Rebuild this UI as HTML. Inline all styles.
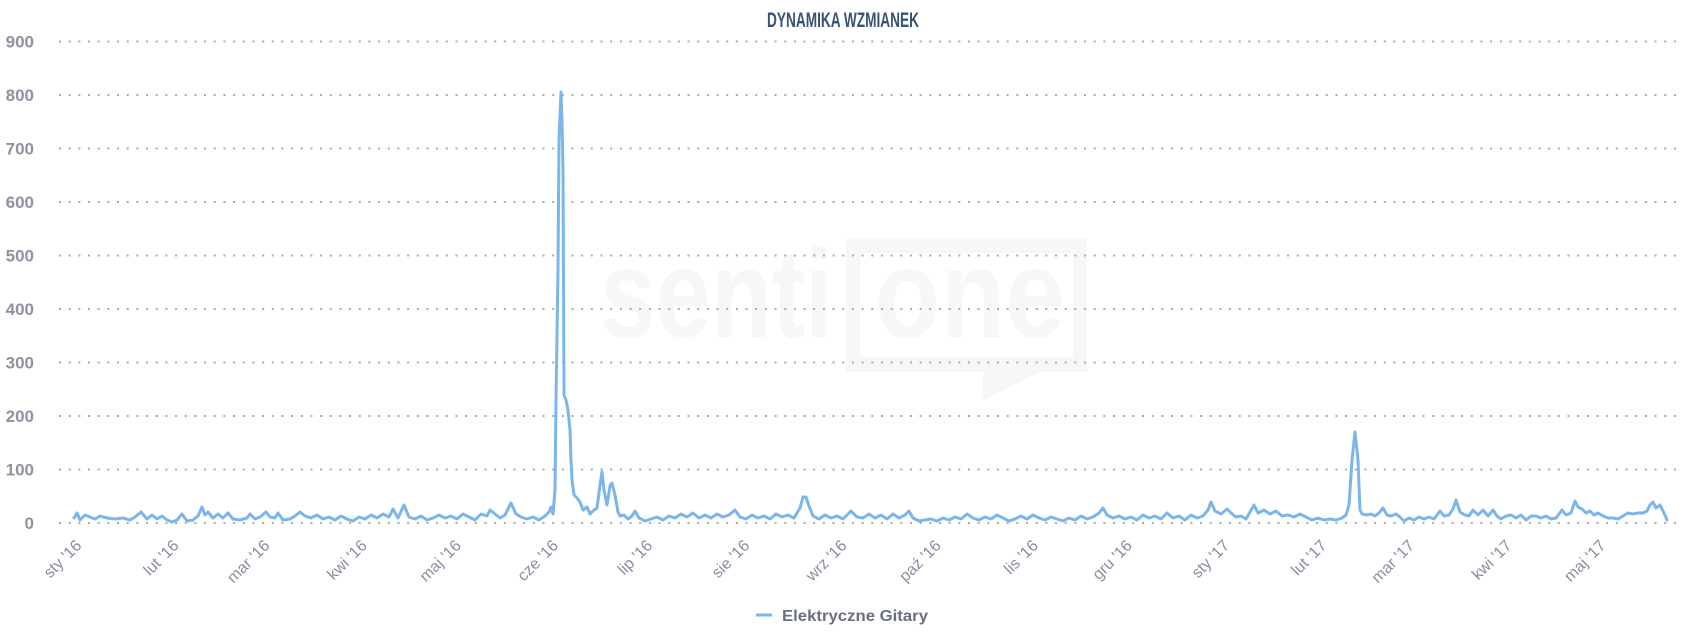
<!DOCTYPE html>
<html>
<head>
<meta charset="utf-8">
<style>
html,body{margin:0;padding:0;background:#ffffff;}
svg{display:block;}
</style>
</head>
<body>
<svg width="1686" height="640" viewBox="0 0 1686 640" xmlns="http://www.w3.org/2000/svg">
  <rect x="0" y="0" width="1686" height="640" fill="#ffffff"/>

  <!-- watermark -->
  <g fill="#f7f7f7">
    <text x="600" y="337" font-family="Liberation Sans, sans-serif" font-weight="bold" font-size="125" textLength="233" lengthAdjust="spacingAndGlyphs">senti</text>
    <text x="875" y="337" font-family="Liberation Sans, sans-serif" font-weight="bold" font-size="125" textLength="190" lengthAdjust="spacingAndGlyphs">one</text>
    <path d="M846 238 H1087 V372 H846 Z M860 253 V357 H1073 V253 Z" fill-rule="evenodd"/>
    <polygon points="983,370 983,400 1045,370"/>
  </g>

  <!-- title -->
  <text x="767" y="27" font-family="'Liberation Sans Narrow','Liberation Sans',sans-serif" font-weight="bold" font-size="21" fill="#3b5373" textLength="152" lengthAdjust="spacingAndGlyphs">DYNAMIKA WZMIANEK</text>

  <!-- grid lines -->
  <g stroke="#ababab" stroke-width="2" stroke-dasharray="2 7.67" fill="none">
    <line x1="59" y1="523" x2="1676" y2="523"/>
    <line x1="59" y1="469.5" x2="1676" y2="469.5"/>
    <line x1="59" y1="416" x2="1676" y2="416"/>
    <line x1="59" y1="362.5" x2="1676" y2="362.5"/>
    <line x1="59" y1="309" x2="1676" y2="309"/>
    <line x1="59" y1="255.5" x2="1676" y2="255.5"/>
    <line x1="59" y1="202" x2="1676" y2="202"/>
    <line x1="59" y1="148.5" x2="1676" y2="148.5"/>
    <line x1="59" y1="95" x2="1676" y2="95"/>
    <line x1="59" y1="41.5" x2="1676" y2="41.5"/>
  </g>

  <!-- y-axis labels -->
  <g font-family="'Liberation Sans',sans-serif" font-weight="bold" font-size="17" fill="#8f92a0" text-anchor="end">
    <text x="34" y="529">0</text>
    <text x="34" y="475.5">100</text>
    <text x="34" y="422">200</text>
    <text x="34" y="368.5">300</text>
    <text x="34" y="315">400</text>
    <text x="34" y="261.5">500</text>
    <text x="34" y="208">600</text>
    <text x="34" y="154.5">700</text>
    <text x="34" y="101">800</text>
    <text x="34" y="47.5">900</text>
  </g>

  <!-- x-axis labels -->
  <g font-family="'Liberation Sans',sans-serif" font-size="16" fill="#8a8ea0" text-anchor="end">
    <text x="82.5" y="546.5" transform="rotate(-45 82.5 546.5)">sty '16</text>
    <text x="179.7" y="546.5" transform="rotate(-45 179.7 546.5)">lut '16</text>
    <text x="270.7" y="546.5" transform="rotate(-45 270.7 546.5)">mar '16</text>
    <text x="367.9" y="546.5" transform="rotate(-45 367.9 546.5)">kwi '16</text>
    <text x="462.0" y="546.5" transform="rotate(-45 462.0 546.5)">maj '16</text>
    <text x="559.2" y="546.5" transform="rotate(-45 559.2 546.5)">cze '16</text>
    <text x="653.3" y="546.5" transform="rotate(-45 653.3 546.5)">lip '16</text>
    <text x="750.5" y="546.5" transform="rotate(-45 750.5 546.5)">sie '16</text>
    <text x="847.7" y="546.5" transform="rotate(-45 847.7 546.5)">wrz '16</text>
    <text x="941.8" y="546.5" transform="rotate(-45 941.8 546.5)">paź '16</text>
    <text x="1039.0" y="546.5" transform="rotate(-45 1039.0 546.5)">lis '16</text>
    <text x="1133.1" y="546.5" transform="rotate(-45 1133.1 546.5)">gru '16</text>
    <text x="1230.3" y="546.5" transform="rotate(-45 1230.3 546.5)">sty '17</text>
    <text x="1327.5" y="546.5" transform="rotate(-45 1327.5 546.5)">lut '17</text>
    <text x="1415.3" y="546.5" transform="rotate(-45 1415.3 546.5)">mar '17</text>
    <text x="1512.5" y="546.5" transform="rotate(-45 1512.5 546.5)">kwi '17</text>
    <text x="1606.6" y="546.5" transform="rotate(-45 1606.6 546.5)">maj '17</text>
  </g>

  <!-- series -->
  <polyline fill="none" stroke="#7cb5ec" stroke-width="3" stroke-linejoin="round" stroke-linecap="round" points="
74,518 77,513 80,520 85,515 90,517 95,519 100,516 107,518 115,519 123,518 130,520 135,517 141,512 147,519 152,515 157,519 162,516 167,520 172,522 177,520 182,514 187,521 193,520 198,516 202,507 205,515 208,512 213,518 218,514 223,518 228,513 233,519 240,520 247,518 250,514 255,519 260,517 266,512 270,517 275,518 278,513 283,520 290,519 295,516 300,512
305,516 311,518 317,515 323,519 329,517 335,520 341,516 347,519 353,521 359,517 365,519 371,515 377,518 383,514 389,517 393,509 398,518 404,505 409,517 415,519 421,516 427,520 433,518 439,515 445,518 451,516 457,519 463,514 469,517 475,520 481,514 487,516 490,510 495,514 500,518 505,515 511,503 516,514 521,517 527,519 533,517 539,520 545,516 549,512 551,507 553,514
555,490 556,400 558,270 559,140 561,92 562,120 563,170 564,395 566,400 568,410 570,430 571,460 572,480 574,495 577,498 580,502 583,510 587,507 590,514 594,510 597,508 600,485 602,472 604,490 607,505 610,486 612,483 615,495 618,512 620,516 624,515 628,519 632,516 635,511 639,518 645,521 651,519 657,517 663,520 669,516 675,518 681,514 687,517 693,513 699,518 705,515 711,518 717,514 723,517 729,515 735,510 740,517 746,519 752,515 758,518 764,516 770,519 776,514 782,517 788,515 794,518 800,508 803,497 806,497 809,506 813,516 819,519 825,515 831,518 837,516 843,519 851,511 857,517 863,518 869,514 875,518 881,515 887,519 893,514 899,518 905,515 909,511 913,518 919,521 925,520 931,519 937,521 943,518 949,520 955,517 961,519 967,514 973,518 979,520 985,517 991,519 997,515 1003,518 1009,521 1015,519 1021,516 1027,519 1033,515 1039,518 1045,520 1051,517 1057,519 1063,521 1069,518 1075,520 1081,516 1087,519 1093,517 1099,513 1103,508 1107,515 1113,518 1119,516 1125,519 1131,517 1137,520 1143,515 1149,518 1155,516 1161,519 1167,513 1173,518 1179,516 1185,520 1191,515 1197,518 1203,516 1208,510 1211,502 1215,511 1221,514 1227,509 1231,513 1236,517 1241,516 1246,519 1250,512 1254,505 1258,513 1264,510 1270,514 1276,511 1282,516 1288,515 1294,517 1300,514 1306,517 1312,520 1318,518 1324,520 1330,519 1336,520 1342,518 1346,515 1349,505 1352,460 1355,432 1358,460 1360,510 1362,514 1367,515 1371,514 1375,516 1379,513 1383,508 1387,515 1391,516 1396,514 1400,517 1404,521 1409,518 1414,520 1419,517 1424,519 1429,517 1434,519 1440,511 1444,516 1449,515 1453,509 1456,500 1460,512 1465,515 1469,516 1473,510 1478,515 1483,510 1488,516 1493,510 1497,516 1501,519 1506,516 1511,515 1516,518 1521,515 1526,520 1531,516 1536,516 1541,518 1546,516 1551,519 1556,518 1562,510 1566,515 1571,513 1575,501 1578,507 1582,509 1586,513 1590,511 1594,515 1598,513 1603,516 1608,518 1613,518 1618,519 1623,516 1628,513 1633,514 1638,513 1643,513 1647,511 1650,505 1653,502 1656,508 1660,505 1664,513 1667,520"/>

  <!-- legend -->
  <line x1="756" y1="615" x2="772" y2="615" stroke="#7cb5ec" stroke-width="3"/>
  <text x="782" y="621" font-family="'Liberation Sans',sans-serif" font-weight="bold" font-size="16" fill="#6b7080" textLength="146" lengthAdjust="spacingAndGlyphs">Elektryczne Gitary</text>
</svg>
</body>
</html>
